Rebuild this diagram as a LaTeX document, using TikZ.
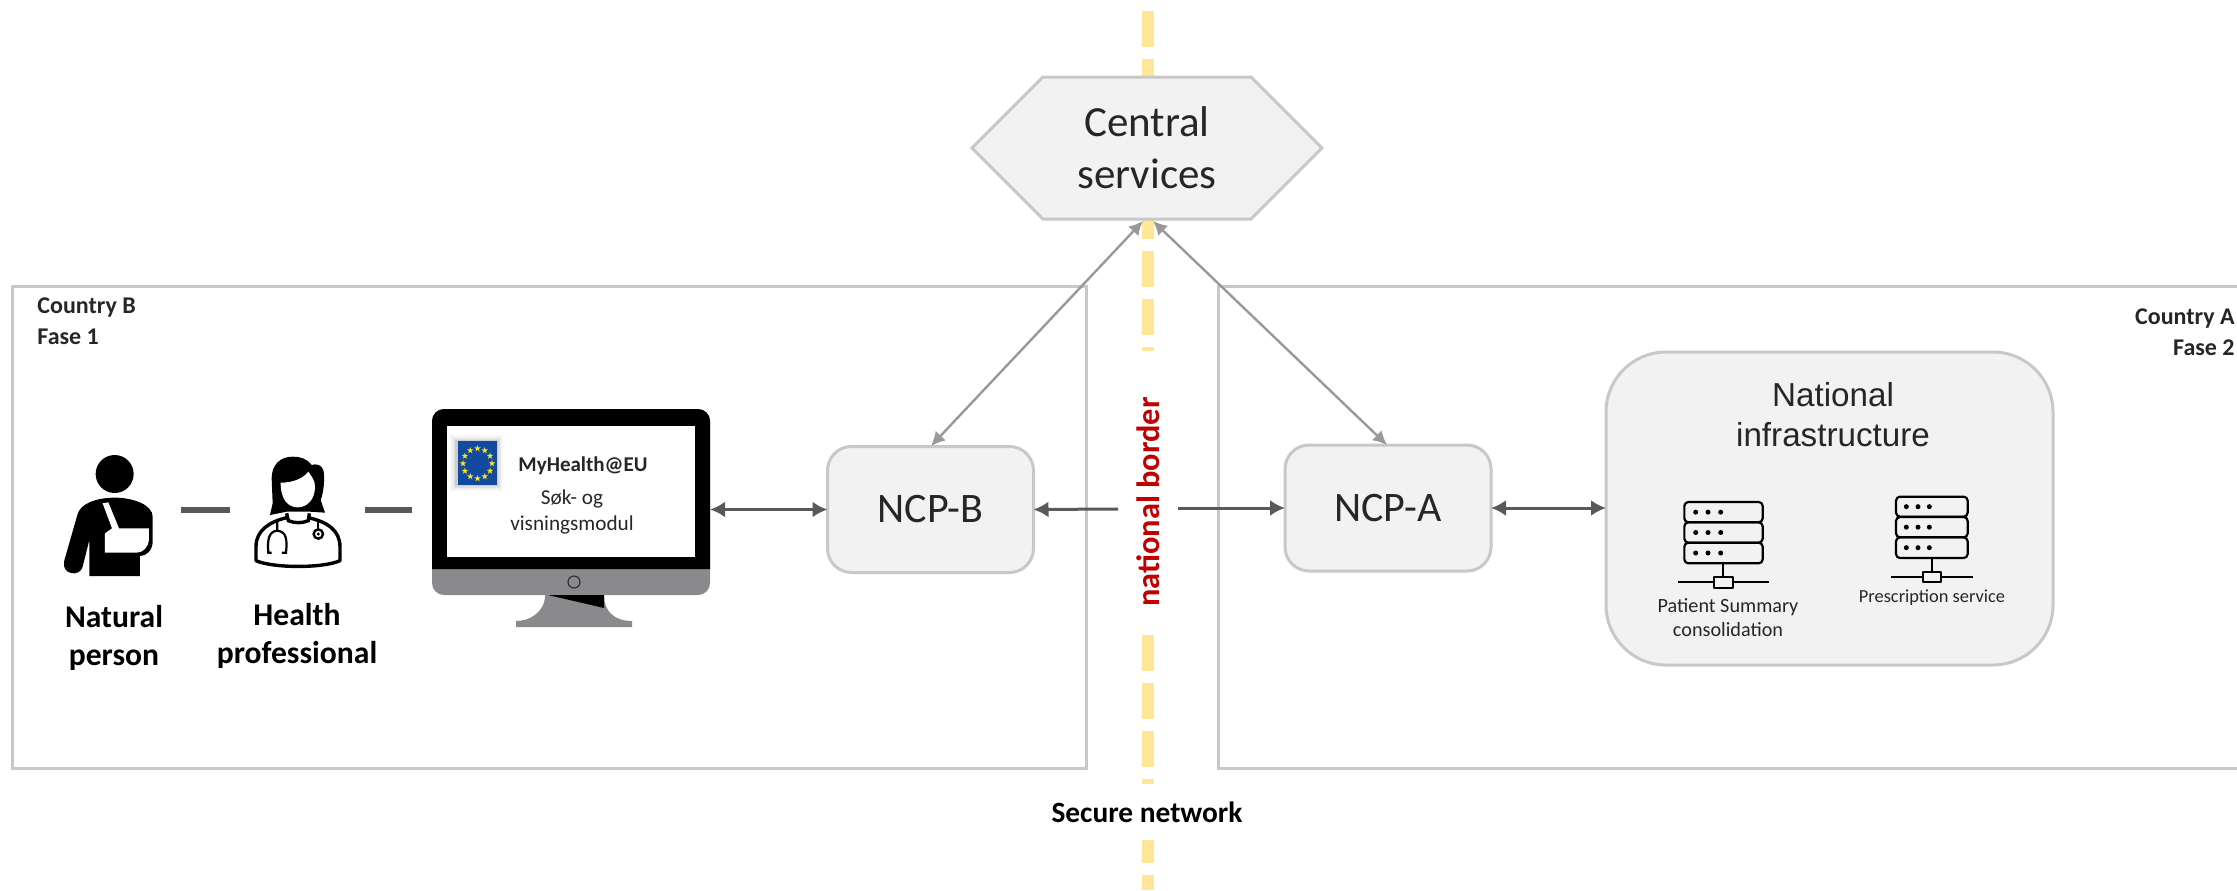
\documentclass[tikz,border=0pt]{standalone}
\usepackage{fontspec}
\setmainfont{Carlito}
\newfontfamily\natfont{Liberation Sans}
\usetikzlibrary{arrows.meta,shapes.symbols}
\definecolor{boxline}{HTML}{C8C8C8}
\definecolor{boxfill}{HTML}{F2F2F2}
\definecolor{darkarrow}{HTML}{595959}
\definecolor{greyarrow}{HTML}{999999}
\definecolor{borderyellow}{HTML}{FFE699}
\definecolor{bordertext}{HTML}{C00000}
\definecolor{inktext}{HTML}{262626}
\definecolor{monitorgrey}{HTML}{8A8A8D}
\definecolor{eublue}{HTML}{114A9E}
\definecolor{euyellow}{HTML}{FFE61A}
\newcommand{\pxfont}[2]{\fontsize{#1}{#2}\selectfont}
\tikzset{
  x=0.5pt,y=-0.5pt,
  region/.style={draw=boxline,line width=1.5pt},
  ncpbox/.style={draw=boxline,fill=boxfill,line width=1.5pt,rounded corners=12pt,minimum width=103pt,minimum height=63pt,inner sep=0pt,outer sep=0pt,text=inktext,font=\pxfont{21}{25}},
  infobox/.style={draw=boxline,fill=boxfill,line width=1.5pt,rounded corners=30pt,minimum width=223.5pt,minimum height=156.5pt,inner sep=0pt,outer sep=0pt},
  hexbox/.style={shape=signal,signal to=east and west,signal pointer angle=90,draw=boxline,fill=boxfill,line width=1.5pt,minimum width=175pt,minimum height=71pt,inner sep=0pt,outer sep=0pt,text=inktext,align=center,font=\pxfont{21.5}{26}},
  linkdark/.style={draw=darkarrow,line width=1.5pt,{Latex[length=7.5pt,width=8pt]}-{Latex[length=7.5pt,width=8pt]}},
  linkdarkone/.style={draw=darkarrow,line width=1.5pt,-{Latex[length=7.5pt,width=8pt]}},
  linkgrey/.style={draw=greyarrow,line width=1.2pt,{Latex[length=7pt,width=7pt]}-{Latex[length=7pt,width=7pt]}},
  peoplelink/.style={draw=darkarrow,line width=3pt},
  borderline/.style={draw=borderyellow,line width=6pt,dash pattern=on 18pt off 6pt},
  persontext/.style={font=\pxfont{15.8}{19.3}\bfseries,text=black,align=center,inner sep=0pt},
  countrytext/.style={font=\pxfont{12}{14.5}\bfseries,text=inktext,inner sep=0pt},
  srvline/.style={draw=black,line width=1.1pt,line join=round},
}
\newcommand{\eustar}[2]{\fill[euyellow] (#1,#2)
  +(90:1.7pt) -- +(126:.65pt) -- +(162:1.7pt) -- +(198:.65pt) -- +(234:1.7pt) -- +(270:.65pt) -- +(306:1.7pt) -- +(342:.65pt) -- +(18:1.7pt) -- +(54:.65pt) -- cycle;}
\begin{document}
\begin{tikzpicture}
\useasboundingbox (0,0) rectangle (2237,890);
% border line
\draw[borderline] (1148,11) -- (1148,351);
\draw[borderline] (1148,635) -- (1148,784);
\draw[borderline] (1148,840) -- (1148,863);
\draw[borderline] (1148,875) -- (1148,890);
% country regions
\draw[region] (12,286) rectangle (1086,768);
\draw[region] (2240,286) -- (1218,286) -- (1218,768) -- (2240,768);
\node[countrytext,anchor=west] (countryb) at (37,308) {Country B};
\node[countrytext,anchor=west] (faseb) at (37,337) {Fase 1};
\node[countrytext,anchor=east] (countrya) at (2235,319) {Country A};
\node[countrytext,anchor=east] (fasea) at (2235,348) {Fase 2};
% central
\node[hexbox] (central) at (1147,148) {Central\\services};
% ncp
\node[ncpbox] (ncpb) at (930.5,509.5) {NCP-B};
\node[ncpbox] (ncpa) at (1388,508) {NCP-A};
% national infra
\node[infobox] (natinf) at (1829.5,508.5) {};
\node[font=\natfont\pxfont{16.6}{20},text=inktext,align=center,inner sep=0pt] (nattitle) at (1833,415) {National\\infrastructure};
% monitor
\fill[monitorgrey,rounded corners=6pt] (432,409) rectangle (710,595);
\fill[black] (432,569) [rounded corners=6pt] -- (432,409) -- (710,409) [sharp corners] -- (710,569) -- cycle;
\fill[monitorgrey] (545,595) .. controls (545,612) and (530,621) .. (516,621) -- (516,627) -- (632,627) -- (632,621) .. controls (615,621) and (604,612) .. (604,595) -- cycle;
\fill[black] (548,595) -- (604,595) -- (604,608) -- cycle;
\draw[draw=black!65!monitorgrey,line width=0.6pt] (574,582) circle (3pt);
\node[fill=white,inner sep=0pt,outer sep=0pt,minimum width=124pt,minimum height=65.5pt] (screen) at (571,491.5) {};
\node[inner sep=0pt,outer sep=0pt,minimum width=139pt,minimum height=93pt] (monitor) at (571,502) {};
% flag
\foreach \g/\o in {6/0.03,4/0.04,2.5/0.06,1/0.08}{
  \fill[black,opacity=\o] (458-\g-2,441-\g) rectangle (497+\g,485+\g);}
\fill[eublue] (458,441) rectangle (497,485);
\foreach \a in {0,30,...,330}{
  \pgfmathsetmacro{\sx}{477.5+14.5*cos(\a)}
  \pgfmathsetmacro{\sy}{463.5+15*sin(\a)}
  \eustar{\sx}{\sy}
}
\node[font=\pxfont{10.5}{13}\bfseries,text=inktext,inner sep=0pt] (mhtitle) at (583,466) {MyHealth@EU};
\node[font=\pxfont{10.6}{13}\color{inktext},align=center,inner sep=0pt] (mhsub) at (572,512) {Søk- og\\visningsmodul};
% person
\begin{scope}[shift={(0,270)},scale=1/3]
\fill[black] (344,612) circle (57);
\fill[black] (345,683) .. controls (400,683) and (458,705) .. (458,740) -- (458,815) .. controls (458,840) and (440,858) .. (420,858) -- (420,918) -- (268,918) -- (268,810) -- (248,890) .. controls (240,922) and (185,915) .. (192,875) -- (232,735) .. controls (240,700) and (290,683) .. (345,683) -- cycle;
\fill[white] (308,700) -- (325,697) -- (357,775) -- (447,775) -- (447,810) .. controls (445,830) and (430,848) .. (410,848) -- (315,848) -- (315,790) -- (336,775) -- cycle;
% doctor
\fill[black] (878,560) .. controls (840,560) and (815,585) .. (815,625) -- (818,700) -- (810,735) -- (860,725) -- (930,725) -- (975,728) -- (962,690) .. controls (972,665) and (975,620) .. (970,600) .. controls (965,585) and (950,580) .. (935,585) .. controls (920,565) and (900,560) .. (878,560) -- cycle;
\fill[white] (842,638) .. controls (880,638) and (910,625) .. (925,605) .. controls (935,620) and (945,630) .. (945,650) .. controls (945,690) and (920,712) .. (893,712) .. controls (865,712) and (842,690) .. (842,638) -- cycle;
\draw[black,line width=1.7pt,line join=round] (860,743) .. controls (810,755) and (768,780) .. (768,830) -- (768,872) .. controls (820,895) and (970,895) .. (1020,872) -- (1020,830) .. controls (1020,780) and (980,755) .. (925,743);
\draw[black,line width=1.7pt] (860,730) -- (865,752) .. controls (885,760) and (905,760) .. (925,752) -- (928,730);
\draw[black,line width=1.1pt] (832,750) -- (832,782) .. controls (805,785) and (802,810) .. (805,848) -- (815,848);
\draw[black,line width=1.1pt] (832,782) .. controls (860,785) and (862,810) .. (858,848) -- (846,848);
\draw[black,line width=1.1pt] (955,750) -- (955,780);
\draw[black,line width=1.2pt,fill=white] (955,792) circle (14);
\fill[black] (955,792) circle (5);
\end{scope}
\node[persontext] (natural) at (114,638) {Natural\\person};
\node[persontext] (health) at (297,636) {Health\\professional};
\coordinate (p1) at (181,510);
\coordinate (p2) at (230,510);
\coordinate (p3) at (365,510);
\coordinate (p4) at (412,510);
\draw[peoplelink] (p1) -- (p2);
\draw[peoplelink] (p3) -- (p4);
% servers
\begin{scope}[shift={(1590,340)},scale=1/3]
\foreach \t/\b in {486/547,547/608,608/670}{
  \draw[srvline,rounded corners=2pt] (283,\t) rectangle (518,\b);
  \foreach \dx in {317,354,392}{\fill[black] (\dx,{(\t+\b)/2}) circle (7.5);}
}
\draw[srvline] (400,670) -- (400,710);
\draw[srvline] (265,727) -- (372,727);
\draw[srvline] (428,727) -- (536,727);
\draw[srvline] (372,710) rectangle (428,743);
\foreach \t/\b in {470/530,531/592,592/654}{
  \draw[srvline,rounded corners=2pt] (918,\t) rectangle (1133,\b);
  \foreach \dx in {949,984,1018}{\fill[black] (\dx,{(\t+\b)/2}) circle (7.5);}
}
\draw[srvline] (1025,654) -- (1025,695);
\draw[srvline] (902,711) -- (1000,711);
\draw[srvline] (1052,711) -- (1150,711);
\draw[srvline] (1000,695) rectangle (1052,727);
\end{scope}
\node[font=\pxfont{10.1}{12}\color{inktext},align=center,inner sep=0pt] (psummary) at (1728,618) {Patient Summary\\consolidation};
\node[font=\pxfont{9.2}{12}\color{inktext},align=center,inner sep=0pt] (prescr) at (1932,598) {Prescription service};
% connectors
\draw[linkdark] (monitor.east |- ncpb.west) -- (ncpb.west);
\coordinate (bl) at (1118,509);
\coordinate (br) at (1178,508);
\draw[linkdarkone] (bl) -- (ncpb.east);
\draw[linkdarkone] (br) -- (ncpa.west);
\draw[linkdark] (ncpa.east) -- (ncpa.east -| natinf.west);
\coordinate (cl) at (1143,221);
\coordinate (cr) at (1153,221);
\coordinate (nb) at (931,446);
\coordinate (na) at (1387,445);
\draw[linkgrey] (nb) -- (cl);
\draw[linkgrey] (cr) -- (na);
% labels
\node[rotate=90,font=\pxfont{16.2}{18}\bfseries,text=bordertext,inner sep=0pt] (natborder) at (1148,502) {national border};
\node[font=\pxfont{14.7}{18}\bfseries,text=black,inner sep=0pt] (secure) at (1147,812) {Secure network};
\end{tikzpicture}
\end{document}
